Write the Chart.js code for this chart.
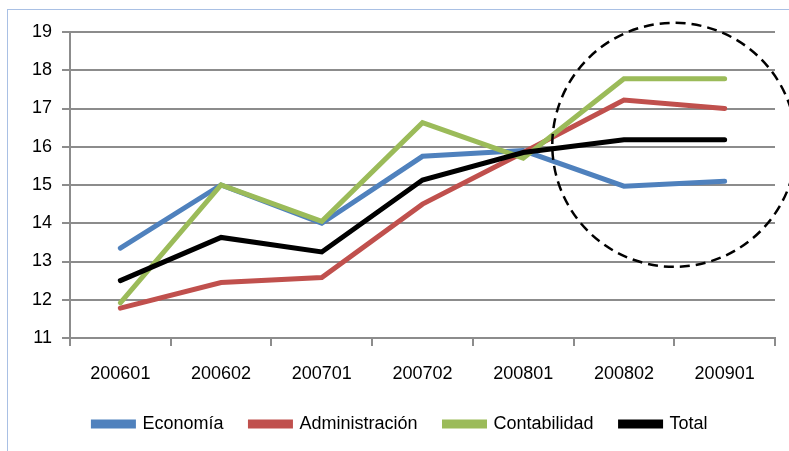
<!DOCTYPE html>
<html>
<head>
<meta charset="utf-8">
<script src="https://cdn.jsdelivr.net/npm/chart.js@4/dist/chart.umd.min.js"></script>
<style>
  html, body { margin: 0; padding: 0; background: #fff; }
  #wrap { width: 789px; height: 451px; position: relative; }
</style>
</head>
<body>
<div id="wrap"><canvas id="chart" width="789" height="451"></canvas></div>
<script>
// periods on the x axis
const periods = ['200601', '200602', '200701', '200702', '200801', '200802', '200901'];

// series
const economia       = [13.35, 15.0, 14.0, 15.75, 15.9, 14.97, 15.1];
const administracion = [11.78, 12.45, 12.58, 14.5, 15.85, 17.22, 17.0];
const contabilidad   = [11.92, 15.0, 14.05, 16.63, 15.7, 17.78, 17.78];
const total          = [12.5, 13.63, 13.25, 15.13, 15.85, 16.18, 16.18];

// y axis range
const yMin = 11;
const yMax = 19;

// highlighted zone (dashed circle), in data terms
const highlightCenter = { x: 5.5, y: 16.05 };

const gridGray = '#8c8c8c';
const font = { family: 'Liberation Sans, Arial, sans-serif', size: 18 };

// frame line + dashed circle
const decorations = {
  id: 'decorations',
  beforeDraw(chart) {
    const ctx = chart.ctx;
    ctx.save();
    ctx.strokeStyle = '#a9c0e4';
    ctx.lineWidth = 1;
    ctx.strokeRect(7.5, 9.5, 1000, 1000);
    ctx.restore();
  },
  afterDatasetsDraw(chart) {
    const { ctx, scales } = chart;
    const cx = scales.x.getPixelForValue(highlightCenter.x);
    const cy = scales.y.getPixelForValue(highlightCenter.y);
    ctx.save();
    ctx.strokeStyle = '#000';
    ctx.lineWidth = 2.5;
    ctx.setLineDash([10, 6]);
    ctx.beginPath();
    ctx.ellipse(cx, cy, 122, 122, 0, 0, Math.PI * 2);
    ctx.stroke();
    ctx.restore();
  }
};

function series(label, data, color, order) {
  return {
    label: label,
    data: data,
    borderColor: color,
    backgroundColor: color,
    borderWidth: 5,
    pointRadius: 0,
    pointHoverRadius: 0,
    tension: 0,
    borderCapStyle: 'round',
    order: order
  };
}

new Chart(document.getElementById('chart'), {
  type: 'line',
  data: {
    labels: periods,
    datasets: [
      series('Economía', economia, '#4f81bd', 4),
      series('Administración', administracion, '#c0504d', 3),
      series('Contabilidad', contabilidad, '#9bbb59', 2),
      series('Total', total, '#000000', 1)
    ]
  },
  options: {
    responsive: false,
    animation: false,
    layout: { padding: { top: 32, right: 14, left: 26, bottom: 8 } },
    plugins: {
      tooltip: { enabled: false },
      legend: {
        position: 'bottom',
        labels: {
          color: '#000',
          font: font,
          boxWidth: 40,
          boxHeight: 4,
          padding: 27,
          sort: (a, b) => a.datasetIndex - b.datasetIndex
        }
      }
    },
    scales: {
      x: {
        offset: true,
        afterFit: s => { s.height = 50; },
        grid: {
          offset: true,
          drawOnChartArea: false,
          drawTicks: true,
          tickLength: 8,
          color: gridGray,
          lineWidth: 2
        },
        border: { display: true, color: gridGray, width: 2 },
        ticks: { color: '#000', font: font, padding: 17, maxRotation: 0 }
      },
      y: {
        min: yMin,
        max: yMax,
        afterFit: s => { s.width = 44; },
        grid: {
          color: gridGray,
          lineWidth: 2,
          drawTicks: true,
          tickLength: 8
        },
        border: { display: true, color: gridGray, width: 2 },
        ticks: { stepSize: 1, color: '#000', font: font, padding: 10 }
      }
    }
  },
  plugins: [decorations]
});
</script>
</body>
</html>
